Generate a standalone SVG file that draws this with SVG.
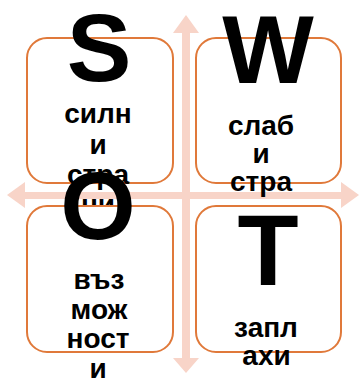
<svg xmlns="http://www.w3.org/2000/svg" width="359" height="381" viewBox="0 0 359 381">
<style>
.box{fill:#fff;stroke:#E0793A;stroke-width:2}
.arr{fill:#F8D4C8}
.big{font-family:"Liberation Sans",Arial,sans-serif;font-weight:bold;font-size:97px;fill:#000;text-anchor:middle}
.txt{font-family:"Liberation Sans",Arial,sans-serif;font-weight:bold;font-size:28px;fill:#000;text-anchor:middle}
</style>
<rect width="359" height="381" fill="#fff"/>
<g id="connectors">
<polygon class="arr" points="186,15 199,33 190,33 190,192 341,192 341,182 359,195 341,208 341,199 190,199 190,358 199,358 186,373 173,358 182,358 182,199 25,199 25,208 7,195 25,182 25,192 182,192 182,33 173,33"/>
</g>
<g id="node-s">
<rect class="box" x="27" y="38" width="146" height="145" rx="20"/>
<text class="txt" x="98" y="123">силн</text>
<text class="txt" x="98" y="153.5">и</text>
<text class="txt" x="98" y="184">стра</text>
<text class="txt" x="98" y="214">ни</text>
<text class="big" x="99" y="81">S</text>
</g>
<g id="node-w">
<rect class="box" x="196" y="38" width="145" height="145" rx="20"/>
<text class="txt" x="261" y="135">слаб</text>
<text class="txt" x="261" y="163">и</text>
<text class="txt" x="261" y="191">стра</text>
<text class="big" x="268" y="83">W</text>
</g>
<g id="node-o">
<rect class="box" x="27" y="206" width="146" height="146" rx="20"/>
<text class="txt" x="99" y="289">въз</text>
<text class="txt" x="99" y="319">мож</text>
<text class="txt" x="98" y="348">ност</text>
<text class="txt" x="98" y="378">и</text>
<text class="big" x="98" y="239">O</text>
</g>
<g id="node-t">
<rect class="box" x="196" y="206" width="145" height="146" rx="20"/>
<text class="txt" x="266" y="337">запл</text>
<text class="txt" x="266.5" y="365">ахи</text>
<text class="big" x="268" y="285" style="font-size:100px">T</text>
</g>
</svg>
